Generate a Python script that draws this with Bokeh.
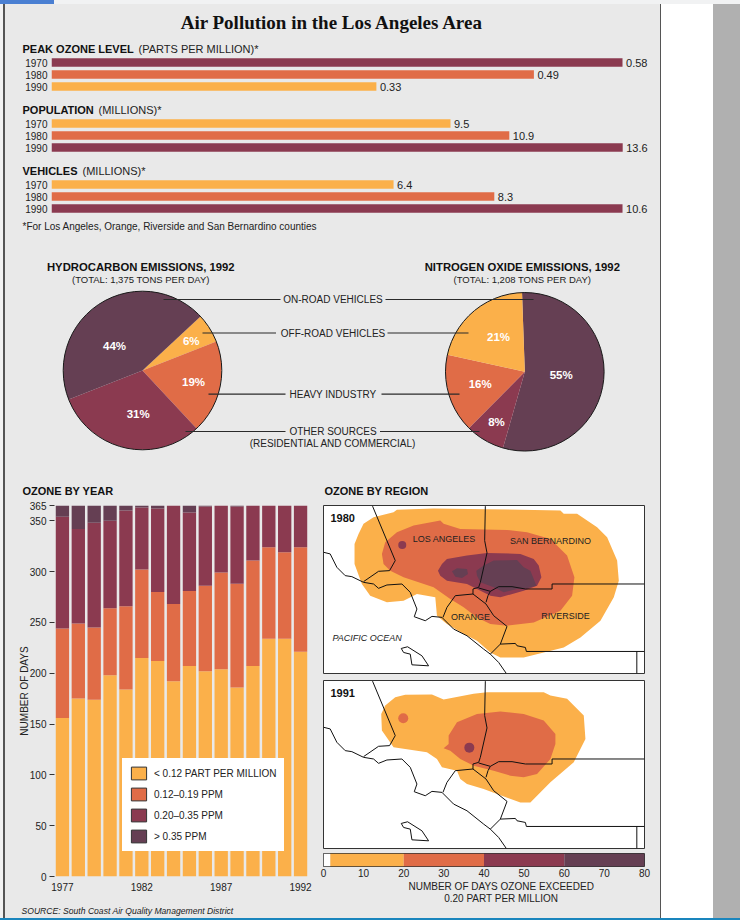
from bokeh.plotting import figure
from bokeh.layouts import column, row
from bokeh.models import Range1d, FactorRange, Label, FixedTicker, Legend, LegendItem, Div
from bokeh.embed import file_html
from bokeh.resources import INLINE

# ---------- data ----------
PANEL = "#e9e9e9"
YEL, ORA, MAR, DRK = "#fbb04a", "#e06c47", "#8b3a50", "#653f53"
BAR_YEARS = ["1970", "1980", "1990"]
ozone_peak = [0.58, 0.49, 0.33]
population = [9.5, 10.9, 13.6]
vehicles = [6.35, 8.22, 10.6]
ozone_labels = ["0.58", "0.49", "0.33"]
population_labels = ["9.5", "10.9", "13.6"]
vehicles_labels = ["6.4", "8.3", "10.6"]

hc_values = [6, 19, 31, 44]          # off-road, industry, other, on-road
hc_colors = [YEL, ORA, MAR, DRK]
nox_values = [55, 8, 16, 21]         # on-road, other, industry, off-road
nox_colors = [DRK, MAR, ORA, YEL]

years = list(range(1977, 1993))
days_low = [156, 175, 174, 198, 184, 215, 212, 192, 207, 202, 204, 186, 207, 234, 234, 221]
days_mid = [88, 74, 71, 66, 82, 87, 68, 76, 74, 84, 95, 102, 104, 90, 85, 103]
days_high = [110, 93, 103, 86, 94, 61, 82, 97, 77, 78, 66, 76, 54, 41, 46, 41]
days_top = [11, 23, 17, 15, 5, 2, 3, 0, 7, 1, 0, 1, 0, 0, 0, 0]
legend_labels = ["< 0.12 PART PER MILLION", "0.12\u20130.19 PPM", "0.20\u20130.35 PPM", "> 0.35 PPM"]

scale_edges = [0, 1.7, 20, 40, 60, 80]
scale_colors = ["#ffffff", YEL, ORA, MAR, DRK]

# map outlines, in map units
map80_yellow = [(130,70),(160,50),(220,35),(230,28),(340,24),(500,26),(720,30),(730,40),(770,40),(830,80),(860,110),(890,180),(895,240),(880,290),(840,360),(780,410),(730,440),(610,470),(540,470),(510,455),(470,420),(430,400),(380,370),(350,345),(345,290),(290,280),(250,300),(200,305),(150,285),(125,250),(103,190),(103,130),(115,100)]
map80_orange = [(185,160),(195,125),(230,95),(280,75),(360,60),(370,70),(420,85),(560,88),(620,95),(690,115),(740,165),(762,230),(755,285),(720,330),(640,365),(560,375),(510,370),(470,350),(430,320),(390,295),(340,260),(250,230),(210,210),(190,190)]
map80_maroon = [(353,210),(365,190),(380,175),(440,165),(500,157),(600,160),(640,175),(655,195),(663,230),(650,255),(610,270),(540,290),(510,285),(470,265),(440,250),(380,240),(360,225)]
map80_dark_a = [(395,212),(410,203),(440,205),(443,220),(425,232),(405,228)]
map80_dark_b = [(468,210),(490,195),(520,180),(590,178),(610,200),(630,210),(640,235),(648,255),(620,262),(590,265),(550,275),(520,260),(480,245),(470,225)]
map91_yellow = [(183,115),(195,90),(225,65),(255,58),(335,57),(370,72),(460,55),(500,50),(670,50),(690,60),(740,70),(790,120),(795,190),(760,260),(690,320),(630,380),(600,380),(530,355),(490,340),(440,325),(420,310),(410,285),(365,275),(350,250),(320,230),(220,215),(185,165)]
map91_orange = [(370,218),(385,205),(385,180),(410,140),(470,115),(540,108),(610,115),(670,135),(705,175),(705,205),(690,250),(650,295),(610,305),(570,300),(520,285),(460,270),(420,250),(390,225)]
base_lines = [
    [(157,17),(225,180),(208,210),(175,212),(130,243)],
    [(10,155),(30,160),(50,200),(75,225),(95,228),(130,245),(160,250),(175,263),(200,253),(245,250),(270,275),(290,325),(282,348),(315,360),(335,347),(365,350),(400,385),(440,405),(490,445),(510,460),(535,485),(558,518)],
    [(495,17),(493,120),(500,157),(480,245),(475,260),(458,265),(458,280)],
    [(458,280),(405,285),(380,320),(368,350)],
    [(458,280),(497,310),(520,345),(560,377),(540,430),(510,460)],
    [(475,262),(510,272),(535,258),(575,258),(615,265),(695,265),(695,250),(972,250)],
    [(497,305),(503,285),(510,272)],
    [(540,430),(585,428),(590,435),(615,440),(618,452),(972,452)],
    [(949,452),(949,518)],
    [(243,443),(262,438),(305,465),(325,495),(275,492),(270,460),(250,455),(243,443)],
]

SANS = "Liberation Sans"
SERIF = "Liberation Serif"
INK = "#222222"
HEAD = "#111111"


def clean(p, bg=PANEL):
    p.background_fill_color = bg
    p.border_fill_color = bg
    p.outline_line_color = None
    p.grid.visible = False
    p.frame_align = False
    return p


def blank(w, h, x_range=None, y_range=None, bg=PANEL):
    p = figure(width=w, height=h, x_range=x_range or Range1d(0, w), y_range=y_range or Range1d(0, h),
               x_axis_type=None, y_axis_type=None, toolbar_location=None, output_backend="svg",
               min_border=0)
    return clean(p, bg)


def put(p, fx, fb, px, py, text, size, style="normal", align="left", color=INK, font=SANS):
    """text placed at page position (px, py); (fx, fb) = page position of the frame's bottom left."""
    p.add_layout(Label(x=px - fx, y=fb - py, x_units="screen", y_units="screen", text=text,
                       text_font=font, text_font_size=f"{size}px", text_font_style=style,
                       text_color=color, text_align=align, text_baseline="middle"))


def bars(values, labels, xmax, colors):
    p = figure(width=655, height=36, x_range=Range1d(0, xmax), y_range=FactorRange(factors=BAR_YEARS[::-1]),
               toolbar_location=None, output_backend="svg", min_border_left=46, min_border_right=0,
               min_border_top=0, min_border_bottom=0, x_axis_type=None)
    clean(p)
    p.y_range.range_padding = 0
    p.hbar(y=BAR_YEARS, right=values, left=0, height=0.72, fill_color=colors, line_color=None)
    p.text(x=values, y=BAR_YEARS, text=labels, x_offset=3.5, text_font_size="11px", text_baseline="middle",
           text_color=INK, text_font={"value": SANS})
    ax = p.yaxis[0]
    ax.axis_line_color = None
    ax.major_tick_line_color = None
    ax.minor_tick_line_color = None
    ax.major_tick_out = 0
    ax.major_label_text_font = SANS
    ax.major_label_text_font_size = "10px"
    ax.major_label_text_color = INK
    ax.major_label_standoff = 4
    return p


def head(h, page_bottom, py, bold, light, light_x):
    p = blank(655, h)
    put(p, 5, page_bottom, 22, py, bold, 11, "bold", color=HEAD)
    put(p, 5, page_bottom, light_x, py, light, 11)
    return p


def strip(w, h, color):
    return Div(width=w, height=h, margin=0, styles={"background-color": color})


# ---------- strips ----------
top_strip = row(strip(54, 4, "#4a7fd2"), strip(686, 4, "#f1f2f3"), spacing=0)
bottom_strip = strip(740, 2, "#1a85bd")
left_strip = row(strip(3, 914, "#f2f2f2"), strip(2, 914, "#555555"), spacing=0)
right_strip = row(strip(1, 914, "#555555"), strip(52, 914, "#ffffff"), strip(27, 914, "#b0b0b0"), spacing=0)

# ---------- title ----------
title_fig = blank(655, 37)
put(title_fig, 5, 41, 332, 22, "Air Pollution in the Los Angeles Area", 19, "bold", "center", HEAD, SERIF)

# ---------- bar groups ----------
h1 = head(15, 56, 48.7, "PEAK OZONE LEVEL", "(PARTS PER MILLION)*", 138)
b1 = bars(ozone_peak, ozone_labels, 609 / 984.5, [MAR, ORA, YEL])
h2 = head(25, 117, 109.3, "POPULATION", "(MILLIONS)*", 98)
b2 = bars(population, population_labels, 609 / 42.0, [YEL, ORA, MAR])
h3 = head(25, 178, 170, "VEHICLES", "(MILLIONS)*", 82)
b3 = bars(vehicles, vehicles_labels, 609 / 53.87, [YEL, ORA, MAR])
note = blank(655, 26)
put(note, 5, 240, 22, 225.5, "*For Los Angeles, Orange, Riverside and San Bernardino counties", 10)

# ---------- pies ----------
pies = blank(655, 240, Range1d(5, 660), Range1d(-480, -240))


def pie(cx, cy, r, values, colors, start):
    a = start
    starts, ends = [], []
    for v in values:
        sweep = v / sum(values) * 360
        ends.append(a)
        starts.append(a - sweep)
        a -= sweep
    pies.wedge(x=cx, y=-cy, radius=r, start_angle=starts, end_angle=ends, start_angle_units="deg",
               end_angle_units="deg", fill_color=colors, line_color=None)
    pies.circle(x=[cx], y=[-cy], radius=r, fill_color=None, line_color="#1a1a1a", line_width=1)


pie(142, 370, 79.3, hc_values, hc_colors, 43)
pie(524.3, 371.3, 79.3, nox_values, nox_colors, 92)

leaders = [(163, 280, 299), (385, 533, 299), (202, 275.5, 332.5), (387, 468, 332.5),
           (208, 285, 393.7), (381, 459, 393.7), (185, 285, 431), (379.5, 479, 431)]
pies.segment(x0=[l[0] for l in leaders], x1=[l[1] for l in leaders], y0=[-l[2] for l in leaders],
             y1=[-l[2] for l in leaders], line_color="#2a2a2a", line_width=1.2)


def pt(px, py, text, size=10, style="normal", align="center", color=INK):
    put(pies, 5, 480, px, py, text, size, style, align, color)


pt(140.3, 266, "HYDROCARBON EMISSIONS, 1992", 11.3, "bold", color=HEAD)
pt(140.3, 279, "(TOTAL: 1,375 TONS PER DAY)", 9.5)
pt(521.8, 266, "NITROGEN OXIDE EMISSIONS, 1992", 11.3, "bold", color=HEAD)
pt(521.8, 279, "(TOTAL: 1,208 TONS PER DAY)", 9.5)
pt(332.5, 299, "ON-ROAD VEHICLES")
pt(332.5, 332.5, "OFF-ROAD VEHICLES")
pt(332.5, 393.7, "HEAVY INDUSTRY")
pt(332.5, 431, "OTHER SOURCES")
pt(332.5, 443, "(RESIDENTIAL AND COMMERCIAL)")
for (px, py), v in zip([(190.7, 340), (193, 381.7), (137.7, 413.3), (114, 345)], hc_values):
    pt(px, py, f"{v}%", 11.5, "bold", color="#ffffff")
for (px, py), v in zip([(560.7, 374.3), (496, 421), (479.7, 383.3), (498, 336.3)], nox_values):
    pt(px, py, f"{v}%", 11.5, "bold", color="#ffffff")

# ---------- stacked bars ----------
stack_head = blank(315, 15)
put(stack_head, 5, 495, 22, 490, "OZONE BY YEAR", 11, "bold", color=HEAD)

stack = figure(width=315, height=403, x_range=Range1d(1976.5, 1992.5), y_range=Range1d(0, 365),
               toolbar_location=None, output_backend="svg", min_border_left=49, min_border_right=12,
               min_border_top=10, min_border_bottom=22)
clean(stack)
data = dict(year=years, low=days_low, mid=days_mid, high=days_high, top=days_top)
stack.vbar_stack(["low", "mid", "high", "top"], x="year", width=0.84, source=data,
                 color=[YEL, ORA, MAR, DRK], line_color=None)
xa = stack.xaxis[0]
xa.ticker = FixedTicker(ticks=[1977, 1982, 1987, 1992])
xa.axis_line_color = None
xa.major_tick_line_color = None
xa.minor_tick_line_color = None
xa.major_tick_out = 0
xa.major_label_text_font = SANS
xa.major_label_text_font_size = "10px"
xa.major_label_text_color = INK
xa.major_label_standoff = 6
ya = stack.yaxis[0]
ya.ticker = FixedTicker(ticks=[0, 50, 100, 150, 200, 250, 300, 350, 365])
ya.axis_line_color = None
ya.minor_tick_line_color = None
ya.major_tick_line_color = "#333333"
ya.major_tick_in = 0
ya.major_tick_out = 5
ya.major_label_text_font = SANS
ya.major_label_text_font_size = "10px"
ya.major_label_text_color = INK
ya.major_label_standoff = 3
ya.axis_label = "NUMBER OF DAYS"
ya.axis_label_text_font = SANS
ya.axis_label_text_font_size = "10px"
ya.axis_label_text_font_style = "normal"
ya.axis_label_text_color = INK
ya.axis_label_standoff = -3

swatches = [stack.quad(left=[1970], right=[1971], top=[0], bottom=[0], fill_color=c, line_color="#333333", line_width=1)
            for c in [YEL, ORA, MAR, DRK]]
legend = Legend(items=[LegendItem(label=t, renderers=[r]) for t, r in zip(legend_labels, swatches)],
                location=(68, 25), glyph_width=19, glyph_height=16, spacing=5, padding=6, margin=0,
                label_standoff=6, label_text_font=SANS, label_text_font_size="10px", label_text_color=INK,
                background_fill_color="#ffffff", background_fill_alpha=1, border_line_color="#ffffff")
stack.add_layout(legend, "center")

source_fig = blank(315, 20)
put(source_fig, 5, 918, 21, 910, "SOURCE: South Coast Air Quality Management District", 8.6, "italic")


# ---------- maps ----------
def base_map(bottom):
    p = figure(width=340, height=168 + bottom, x_range=Range1d(10, 972), y_range=Range1d(518, 15),
               x_axis_type=None, y_axis_type=None, toolbar_location=None, output_backend="svg",
               min_border_left=3, min_border_right=16, min_border_top=0, min_border_bottom=bottom)
    clean(p, PANEL)
    p.background_fill_color = "#ffffff"
    p.outline_line_color = "#333333"
    p.outline_line_width = 1
    return p


def fill(p, shape, color):
    p.patch([c[0] for c in shape], [c[1] for c in shape], fill_color=color, line_color=None)


def lines(p):
    p.multi_line([[c[0] for c in l] for l in base_lines], [[c[1] for c in l] for l in base_lines],
                 line_color="#111111", line_width=1)


region_head = blank(340, 25)
put(region_head, 320, 505, 324, 490, "OZONE BY REGION", 11, "bold", color=HEAD)

map80 = base_map(7)
fill(map80, map80_yellow, YEL)
fill(map80, map80_orange, ORA)
fill(map80, map80_maroon, MAR)
fill(map80, map80_dark_a, DRK)
fill(map80, map80_dark_b, DRK)
map80.circle(x=[246], y=[133], radius=12, fill_color=MAR, line_color=None)
lines(map80)
put(map80, 323, 673, 330, 517.5, "1980", 11, "bold", color=HEAD)
put(map80, 323, 673, 443.7, 538.3, "LOS ANGELES", 9, align="center")
put(map80, 323, 673, 550, 540, "SAN BERNARDINO", 9, align="center")
put(map80, 323, 673, 470, 616.7, "ORANGE", 9, align="center")
put(map80, 323, 673, 565, 615.3, "RIVERSIDE", 9, align="center")
put(map80, 323, 673, 366.7, 637.7, "PACIFIC OCEAN", 9, "italic", align="center")

map91 = base_map(5)
fill(map91, map91_yellow, YEL)
fill(map91, map91_orange, ORA)
map91.circle(x=[249], y=[128], radius=15, fill_color=ORA, line_color=None)
map91.circle(x=[447], y=[216], radius=15, fill_color=MAR, line_color=None)
lines(map91)
put(map91, 323, 848, 330, 692, "1991", 11, "bold", color=HEAD)

# ---------- colour scale ----------
scale = figure(width=340, height=27, x_range=Range1d(0, 80), y_range=Range1d(0, 1), y_axis_type=None,
               toolbar_location=None, output_backend="svg", min_border_left=3, min_border_right=16,
               min_border_top=0, min_border_bottom=14)
clean(scale)
scale.outline_line_color = "#333333"
scale.quad(left=scale_edges[:-1], right=scale_edges[1:], bottom=0, top=1, fill_color=scale_colors, line_color=None)
sa = scale.xaxis[0]
sa.ticker = FixedTicker(ticks=[0, 10, 20, 30, 40, 50, 60, 70, 80])
sa.axis_line_color = None
sa.major_tick_line_color = None
sa.minor_tick_line_color = None
sa.major_tick_out = 0
sa.major_label_text_font = SANS
sa.major_label_text_font_size = "10px"
sa.major_label_text_color = INK
sa.major_label_standoff = 2
scale_note = blank(340, 38)
put(scale_note, 320, 918, 500.7, 885.7, "NUMBER OF DAYS OZONE EXCEEDED", 10, align="center")
put(scale_note, 320, 918, 500.7, 897.5, "0.20 PART PER MILLION", 10, align="center")

# ---------- page ----------
left_col = column(stack_head, stack, source_fig, spacing=0)
right_col = column(region_head, map80, map91, scale, scale_note, spacing=0)
lower = row(left_col, right_col, spacing=0)
content = column(title_fig, h1, b1, h2, b2, h3, b3, note, pies, lower, spacing=0,
                 styles={"background-color": PANEL})
root = column(top_strip, row(left_strip, content, right_strip, spacing=0), bottom_strip, spacing=0)

open("out.html", "w").write(file_html(root, INLINE))
